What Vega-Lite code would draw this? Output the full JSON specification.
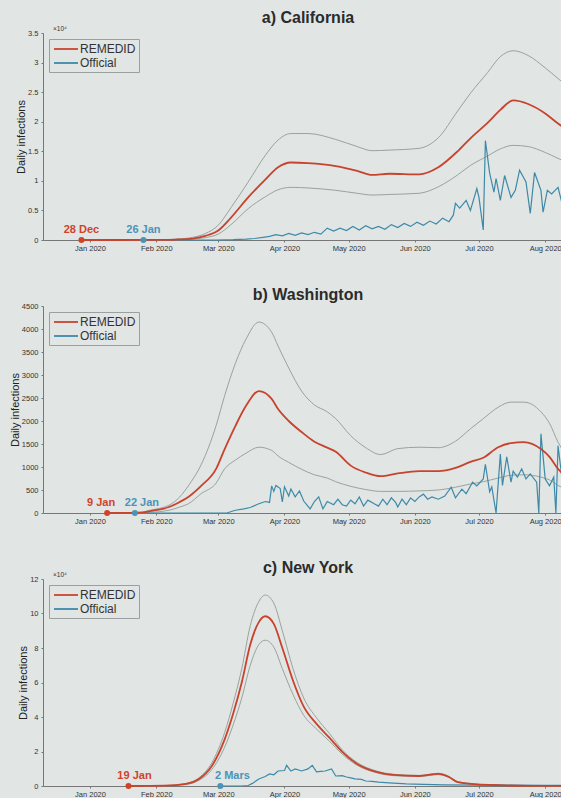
{
"$schema": "https://vega.github.io/schema/vega-lite/v6.json",
"background": "#e1e5e4",
"padding": {"left": 9, "top": 10, "right": 0, "bottom": 0},
"spacing": 35,
"config": {
 "font": "Liberation Sans",
 "view": {"stroke": null},
 "axis": {"domainColor": "#777", "tickColor": "#777", "labelFontSize": 7.5, "labelColor": "#333", "grid": false, "tickSize": 2, "labelPadding": 3, "labelOverlap": false},
 "axisX": {"labelPadding": 2},
 "axisY": {"titleFontSize": 11, "titleFontWeight": "normal", "titleColor": "#222", "titlePadding": 1},
 "title": {"fontSize": 16, "fontWeight": "bold", "color": "#2b2b2b", "offset": 5, "font": "Liberation Sans"},
 "legend": {"orient": "top-left", "offset": 6, "strokeColor": "#9aa0a0", "padding": 3, "symbolType": "M-2,0H2", "symbolSize": 144, "symbolOffset": 7, "symbolStrokeWidth": 1.8, "labelFontSize": 12, "labelColor": "#333", "labelOffset": 7, "rowPadding": 1}
},
"resolve": {"scale": {"y": "independent", "color": "independent"}, "legend": {"color": "independent"}},
"datasets": {
 "curves": [
  {"p":"a","d":"2019-12-28","r":0,"lo":0,"hi":0},
  {"p":"a","d":"2020-01-15","r":0,"lo":0,"hi":0},
  {"p":"a","d":"2020-02-01","r":20,"lo":10,"hi":40},
  {"p":"a","d":"2020-02-10","r":80,"lo":40,"hi":150},
  {"p":"a","d":"2020-02-18","r":250,"lo":150,"hi":450},
  {"p":"a","d":"2020-02-24","r":700,"lo":400,"hi":1100},
  {"p":"a","d":"2020-03-01","r":1600,"lo":1000,"hi":2500},
  {"p":"a","d":"2020-03-07","r":3800,"lo":2600,"hi":5500},
  {"p":"a","d":"2020-03-15","r":7200,"lo":5300,"hi":9800},
  {"p":"a","d":"2020-03-23","r":10200,"lo":7300,"hi":14300},
  {"p":"a","d":"2020-03-29","r":12300,"lo":8500,"hi":16900},
  {"p":"a","d":"2020-04-04","r":13100,"lo":8900,"hi":18000},
  {"p":"a","d":"2020-04-12","r":13000,"lo":8800,"hi":18000},
  {"p":"a","d":"2020-04-25","r":12500,"lo":8400,"hi":17000},
  {"p":"a","d":"2020-05-05","r":11700,"lo":7900,"hi":15800},
  {"p":"a","d":"2020-05-12","r":11000,"lo":7600,"hi":15100},
  {"p":"a","d":"2020-05-20","r":11200,"lo":7700,"hi":15200},
  {"p":"a","d":"2020-06-03","r":11100,"lo":7900,"hi":15500},
  {"p":"a","d":"2020-06-12","r":12300,"lo":9000,"hi":17300},
  {"p":"a","d":"2020-06-21","r":15000,"lo":11000,"hi":21800},
  {"p":"a","d":"2020-06-27","r":17200,"lo":12600,"hi":24800},
  {"p":"a","d":"2020-07-05","r":19800,"lo":14200,"hi":28300},
  {"p":"a","d":"2020-07-11","r":22000,"lo":15400,"hi":31000},
  {"p":"a","d":"2020-07-17","r":23600,"lo":16000,"hi":32000},
  {"p":"a","d":"2020-07-24","r":23000,"lo":15800,"hi":31200},
  {"p":"a","d":"2020-08-01","r":21400,"lo":14800,"hi":29100},
  {"p":"a","d":"2020-08-07","r":19700,"lo":13800,"hi":27300},
  {"p":"a","d":"2020-08-14","r":18000,"lo":12700,"hi":25200},
  {"p":"b","d":"2020-01-09","r":0,"lo":0,"hi":0},
  {"p":"b","d":"2020-01-25","r":10,"lo":5,"hi":20},
  {"p":"b","d":"2020-01-29","r":40,"lo":15,"hi":60},
  {"p":"b","d":"2020-02-07","r":130,"lo":60,"hi":170},
  {"p":"b","d":"2020-02-12","r":240,"lo":130,"hi":350},
  {"p":"b","d":"2020-02-16","r":350,"lo":200,"hi":590},
  {"p":"b","d":"2020-02-22","r":590,"lo":420,"hi":1050},
  {"p":"b","d":"2020-02-29","r":960,"lo":650,"hi":1900},
  {"p":"b","d":"2020-03-04","r":1390,"lo":960,"hi":2550},
  {"p":"b","d":"2020-03-09","r":1890,"lo":1150,"hi":3250},
  {"p":"b","d":"2020-03-14","r":2330,"lo":1300,"hi":3780},
  {"p":"b","d":"2020-03-20","r":2650,"lo":1430,"hi":4150},
  {"p":"b","d":"2020-03-26","r":2480,"lo":1360,"hi":3930},
  {"p":"b","d":"2020-03-29","r":2260,"lo":1240,"hi":3630},
  {"p":"b","d":"2020-04-03","r":2000,"lo":1100,"hi":3150},
  {"p":"b","d":"2020-04-09","r":1760,"lo":950,"hi":2650},
  {"p":"b","d":"2020-04-15","r":1550,"lo":830,"hi":2350},
  {"p":"b","d":"2020-04-21","r":1420,"lo":760,"hi":2200},
  {"p":"b","d":"2020-04-25","r":1330,"lo":680,"hi":2050},
  {"p":"b","d":"2020-05-02","r":1030,"lo":580,"hi":1680},
  {"p":"b","d":"2020-05-09","r":880,"lo":510,"hi":1420},
  {"p":"b","d":"2020-05-16","r":800,"lo":470,"hi":1270},
  {"p":"b","d":"2020-05-24","r":860,"lo":470,"hi":1400},
  {"p":"b","d":"2020-06-03","r":910,"lo":480,"hi":1430},
  {"p":"b","d":"2020-06-12","r":910,"lo":500,"hi":1420},
  {"p":"b","d":"2020-06-20","r":980,"lo":560,"hi":1560},
  {"p":"b","d":"2020-06-27","r":1110,"lo":630,"hi":1830},
  {"p":"b","d":"2020-07-03","r":1200,"lo":680,"hi":2050},
  {"p":"b","d":"2020-07-10","r":1430,"lo":760,"hi":2300},
  {"p":"b","d":"2020-07-16","r":1520,"lo":820,"hi":2410},
  {"p":"b","d":"2020-07-22","r":1540,"lo":830,"hi":2410},
  {"p":"b","d":"2020-07-30","r":1390,"lo":780,"hi":2200},
  {"p":"b","d":"2020-08-03","r":1220,"lo":720,"hi":1950},
  {"p":"b","d":"2020-08-07","r":960,"lo":600,"hi":1540},
  {"p":"b","d":"2020-08-14","r":700,"lo":450,"hi":1100},
  {"p":"c","d":"2020-01-19","r":0,"lo":0,"hi":0},
  {"p":"c","d":"2020-02-05","r":200,"lo":150,"hi":250},
  {"p":"c","d":"2020-02-15","r":1200,"lo":900,"hi":1500},
  {"p":"c","d":"2020-02-21","r":4100,"lo":3300,"hi":4800},
  {"p":"c","d":"2020-02-27","r":11600,"lo":9500,"hi":13500},
  {"p":"c","d":"2020-03-04","r":27000,"lo":22500,"hi":31000},
  {"p":"c","d":"2020-03-08","r":42000,"lo":35500,"hi":48000},
  {"p":"c","d":"2020-03-12","r":60000,"lo":51000,"hi":68000},
  {"p":"c","d":"2020-03-16","r":82000,"lo":70000,"hi":93000},
  {"p":"c","d":"2020-03-20","r":95000,"lo":82000,"hi":107000},
  {"p":"c","d":"2020-03-23","r":98400,"lo":84500,"hi":110700},
  {"p":"c","d":"2020-03-27","r":94000,"lo":80500,"hi":106000},
  {"p":"c","d":"2020-03-31","r":80000,"lo":68000,"hi":90000},
  {"p":"c","d":"2020-04-05","r":61000,"lo":53000,"hi":68000},
  {"p":"c","d":"2020-04-10","r":46000,"lo":41000,"hi":51000},
  {"p":"c","d":"2020-04-16","r":36000,"lo":33000,"hi":39500},
  {"p":"c","d":"2020-04-22","r":28000,"lo":26000,"hi":30500},
  {"p":"c","d":"2020-04-28","r":19800,"lo":18500,"hi":21000},
  {"p":"c","d":"2020-05-05","r":12800,"lo":12000,"hi":13600},
  {"p":"c","d":"2020-05-14","r":8200,"lo":7700,"hi":8700},
  {"p":"c","d":"2020-05-22","r":6400,"lo":6000,"hi":6800},
  {"p":"c","d":"2020-06-03","r":5800,"lo":5500,"hi":6100},
  {"p":"c","d":"2020-06-12","r":7000,"lo":6600,"hi":7400},
  {"p":"c","d":"2020-06-17","r":5200,"lo":4900,"hi":5500},
  {"p":"c","d":"2020-06-21","r":2300,"lo":2100,"hi":2500},
  {"p":"c","d":"2020-07-06","r":600,"lo":550,"hi":650},
  {"p":"c","d":"2020-07-25","r":100,"lo":90,"hi":110},
  {"p":"c","d":"2020-08-14","r":0,"lo":0,"hi":0}
 ],
 "official": [
  {"p":"a","d":"2020-01-26","o":0},{"p":"a","d":"2020-02-29","o":0},{"p":"a","d":"2020-03-08","o":50},{"p":"a","d":"2020-03-14","o":150},
  {"p":"a","d":"2020-03-18","o":250},{"p":"a","d":"2020-03-22","o":450},{"p":"a","d":"2020-03-25","o":600},{"p":"a","d":"2020-03-28","o":900},
  {"p":"a","d":"2020-03-31","o":700},{"p":"a","d":"2020-04-03","o":1100},{"p":"a","d":"2020-04-06","o":800},{"p":"a","d":"2020-04-09","o":1200},
  {"p":"a","d":"2020-04-12","o":900},{"p":"a","d":"2020-04-15","o":1300},{"p":"a","d":"2020-04-18","o":1000},{"p":"a","d":"2020-04-21","o":2000},
  {"p":"a","d":"2020-04-24","o":1500},{"p":"a","d":"2020-04-27","o":2000},{"p":"a","d":"2020-04-30","o":1600},{"p":"a","d":"2020-05-03","o":2300},
  {"p":"a","d":"2020-05-06","o":1700},{"p":"a","d":"2020-05-09","o":2400},{"p":"a","d":"2020-05-12","o":1900},{"p":"a","d":"2020-05-15","o":2300},
  {"p":"a","d":"2020-05-18","o":1800},{"p":"a","d":"2020-05-21","o":2600},{"p":"a","d":"2020-05-24","o":2100},{"p":"a","d":"2020-05-27","o":2800},
  {"p":"a","d":"2020-05-30","o":2300},{"p":"a","d":"2020-06-02","o":3000},{"p":"a","d":"2020-06-05","o":2500},{"p":"a","d":"2020-06-08","o":3200},
  {"p":"a","d":"2020-06-11","o":2700},{"p":"a","d":"2020-06-14","o":3700},{"p":"a","d":"2020-06-17","o":3100},{"p":"a","d":"2020-06-19","o":4200},
  {"p":"a","d":"2020-06-20","o":6200},{"p":"a","d":"2020-06-22","o":5400},{"p":"a","d":"2020-06-25","o":6700},{"p":"a","d":"2020-06-27","o":5000},
  {"p":"a","d":"2020-06-30","o":8700},{"p":"a","d":"2020-07-01","o":7200},{"p":"a","d":"2020-07-03","o":1700},{"p":"a","d":"2020-07-04","o":16800},
  {"p":"a","d":"2020-07-06","o":11300},{"p":"a","d":"2020-07-08","o":8100},{"p":"a","d":"2020-07-09","o":10400},{"p":"a","d":"2020-07-11","o":6700},
  {"p":"a","d":"2020-07-13","o":10900},{"p":"a","d":"2020-07-16","o":7200},{"p":"a","d":"2020-07-18","o":8400},{"p":"a","d":"2020-07-20","o":11800},
  {"p":"a","d":"2020-07-23","o":9800},{"p":"a","d":"2020-07-25","o":4500},{"p":"a","d":"2020-07-27","o":11400},{"p":"a","d":"2020-07-30","o":8400},
  {"p":"a","d":"2020-07-31","o":4700},{"p":"a","d":"2020-08-02","o":8400},{"p":"a","d":"2020-08-04","o":7800},{"p":"a","d":"2020-08-07","o":8900},
  {"p":"a","d":"2020-08-09","o":6000},{"p":"a","d":"2020-08-11","o":9500},{"p":"a","d":"2020-08-13","o":7000},
  {"p":"b","d":"2020-01-22","o":0},{"p":"b","d":"2020-03-05","o":0},{"p":"b","d":"2020-03-09","o":60},{"p":"b","d":"2020-03-13","o":90},
  {"p":"b","d":"2020-03-16","o":120},{"p":"b","d":"2020-03-20","o":200},{"p":"b","d":"2020-03-23","o":250},{"p":"b","d":"2020-03-25","o":230},
  {"p":"b","d":"2020-03-26","o":590},{"p":"b","d":"2020-03-27","o":470},{"p":"b","d":"2020-03-28","o":600},{"p":"b","d":"2020-03-30","o":530},
  {"p":"b","d":"2020-03-31","o":240},{"p":"b","d":"2020-04-01","o":570},{"p":"b","d":"2020-04-03","o":370},{"p":"b","d":"2020-04-04","o":520},
  {"p":"b","d":"2020-04-06","o":350},{"p":"b","d":"2020-04-08","o":480},{"p":"b","d":"2020-04-10","o":260},{"p":"b","d":"2020-04-13","o":90},
  {"p":"b","d":"2020-04-15","o":250},{"p":"b","d":"2020-04-17","o":350},{"p":"b","d":"2020-04-19","o":90},{"p":"b","d":"2020-04-21","o":250},
  {"p":"b","d":"2020-04-24","o":180},{"p":"b","d":"2020-04-26","o":300},{"p":"b","d":"2020-04-28","o":180},{"p":"b","d":"2020-04-30","o":150},
  {"p":"b","d":"2020-05-02","o":280},{"p":"b","d":"2020-05-04","o":200},{"p":"b","d":"2020-05-06","o":350},{"p":"b","d":"2020-05-08","o":150},
  {"p":"b","d":"2020-05-10","o":280},{"p":"b","d":"2020-05-13","o":200},{"p":"b","d":"2020-05-15","o":150},{"p":"b","d":"2020-05-17","o":300},
  {"p":"b","d":"2020-05-19","o":180},{"p":"b","d":"2020-05-21","o":330},{"p":"b","d":"2020-05-23","o":230},{"p":"b","d":"2020-05-24","o":130},
  {"p":"b","d":"2020-05-26","o":300},{"p":"b","d":"2020-05-28","o":180},{"p":"b","d":"2020-05-30","o":330},{"p":"b","d":"2020-06-01","o":250},
  {"p":"b","d":"2020-06-03","o":350},{"p":"b","d":"2020-06-05","o":410},{"p":"b","d":"2020-06-07","o":300},{"p":"b","d":"2020-06-09","o":350},
  {"p":"b","d":"2020-06-12","o":300},{"p":"b","d":"2020-06-15","o":370},{"p":"b","d":"2020-06-18","o":560},{"p":"b","d":"2020-06-20","o":330},
  {"p":"b","d":"2020-06-23","o":520},{"p":"b","d":"2020-06-25","o":420},{"p":"b","d":"2020-06-28","o":670},{"p":"b","d":"2020-06-30","o":590},
  {"p":"b","d":"2020-07-03","o":740},{"p":"b","d":"2020-07-04","o":1060},{"p":"b","d":"2020-07-06","o":460},{"p":"b","d":"2020-07-07","o":570},
  {"p":"b","d":"2020-07-09","o":0},{"p":"b","d":"2020-07-11","o":1280},{"p":"b","d":"2020-07-12","o":600},{"p":"b","d":"2020-07-14","o":1220},
  {"p":"b","d":"2020-07-16","o":670},{"p":"b","d":"2020-07-17","o":910},{"p":"b","d":"2020-07-19","o":780},{"p":"b","d":"2020-07-21","o":960},
  {"p":"b","d":"2020-07-23","o":740},{"p":"b","d":"2020-07-25","o":850},{"p":"b","d":"2020-07-28","o":670},{"p":"b","d":"2020-07-29","o":0},
  {"p":"b","d":"2020-07-30","o":1720},{"p":"b","d":"2020-08-01","o":740},{"p":"b","d":"2020-08-03","o":590},{"p":"b","d":"2020-08-05","o":780},
  {"p":"b","d":"2020-08-06","o":0},{"p":"b","d":"2020-08-07","o":1460},{"p":"b","d":"2020-08-09","o":700},{"p":"b","d":"2020-08-11","o":900},
  {"p":"b","d":"2020-08-13","o":600},
  {"p":"c","d":"2020-03-02","o":0},{"p":"c","d":"2020-03-12","o":0},{"p":"c","d":"2020-03-15","o":300},{"p":"c","d":"2020-03-17","o":1500},
  {"p":"c","d":"2020-03-20","o":4100},{"p":"c","d":"2020-03-23","o":5500},{"p":"c","d":"2020-03-25","o":7000},{"p":"c","d":"2020-03-27","o":6500},
  {"p":"c","d":"2020-03-29","o":8700},{"p":"c","d":"2020-04-01","o":9000},{"p":"c","d":"2020-04-02","o":12000},{"p":"c","d":"2020-04-04","o":8700},
  {"p":"c","d":"2020-04-06","o":9900},{"p":"c","d":"2020-04-09","o":8700},{"p":"c","d":"2020-04-12","o":9900},{"p":"c","d":"2020-04-14","o":12000},
  {"p":"c","d":"2020-04-16","o":8200},{"p":"c","d":"2020-04-18","o":8500},{"p":"c","d":"2020-04-20","o":8700},{"p":"c","d":"2020-04-23","o":9900},
  {"p":"c","d":"2020-04-25","o":5800},{"p":"c","d":"2020-04-28","o":6000},{"p":"c","d":"2020-04-30","o":5200},{"p":"c","d":"2020-05-02","o":4700},
  {"p":"c","d":"2020-05-04","o":4100},{"p":"c","d":"2020-05-07","o":3800},{"p":"c","d":"2020-05-09","o":2900},{"p":"c","d":"2020-05-12","o":2700},
  {"p":"c","d":"2020-05-15","o":2300},{"p":"c","d":"2020-05-20","o":1800},{"p":"c","d":"2020-05-28","o":1200},{"p":"c","d":"2020-06-05","o":900},
  {"p":"c","d":"2020-06-15","o":600},{"p":"c","d":"2020-07-01","o":500},{"p":"c","d":"2020-07-15","o":450},{"p":"c","d":"2020-08-01","o":400},
  {"p":"c","d":"2020-08-14","o":400}
 ],
 "starts": [
  {"p":"a","s":"REMEDID","d":"2019-12-28","t":"28 Dec"},
  {"p":"a","s":"Official","d":"2020-01-26","t":"26 Jan"},
  {"p":"b","s":"REMEDID","d":"2020-01-09","t":"9 Jan"},
  {"p":"b","s":"Official","d":"2020-01-22","t":"22 Jan"},
  {"p":"c","s":"REMEDID","d":"2020-01-19","t":"19 Jan"},
  {"p":"c","s":"Official","d":"2020-03-02","t":"2 Mars"}
 ],
 "corner": [
  {"d":"2019-12-10","t":"×10⁴"}
 ]
},
"vconcat": [
 {
  "title": {"text": "a) California", "offset": 0},
  "width": 530, "height": 207,
  "encoding": {"x": {"field": "d", "type": "temporal", "title": null, "scale": {"domain": [{"year":2019,"month":12,"date":10},{"year":2020,"month":8,"date":14}]}, "axis": {"format": "%b %Y", "tickCount": {"interval": "month", "step": 1}}}},
  "layer": [
   {"data": {"name": "curves"}, "transform": [{"filter": "datum.p === 'a'"}], "mark": {"type": "line", "color": "#9aa39c", "strokeWidth": 1, "interpolate": "monotone"}, "encoding": {"y": {"field": "hi", "type": "quantitative", "title": "Daily infections", "scale": {"domain": [0, 35000]}, "axis": {"values": [0,5000,10000,15000,20000,25000,30000,35000], "labelExpr": "datum.value/10000 + ''", "labelOverlap": false}}}},
   {"data": {"name": "curves"}, "transform": [{"filter": "datum.p === 'a'"}], "mark": {"type": "line", "color": "#9aa39c", "strokeWidth": 1, "interpolate": "monotone"}, "encoding": {"y": {"field": "lo", "type": "quantitative", "title": "Daily infections", "axis": {"values": [0,5000,10000,15000,20000,25000,30000,35000], "labelExpr": "datum.value/10000 + ''", "labelOverlap": false}}}},
   {"data": {"name": "official"}, "transform": [{"filter": "datum.p === 'a'"}], "mark": {"type": "line", "strokeWidth": 1.2}, "encoding": {"y": {"field": "o", "type": "quantitative", "title": "Daily infections", "axis": {"values": [0,5000,10000,15000,20000,25000,30000,35000], "labelExpr": "datum.value/10000 + ''", "labelOverlap": false}}, "color": {"datum": "Official", "type": "nominal", "title": null, "scale": {"domain": ["REMEDID", "Official"], "range": ["#c7432e", "#3d8aa8"]}}}},
   {"data": {"name": "curves"}, "transform": [{"filter": "datum.p === 'a'"}], "mark": {"type": "line", "strokeWidth": 1.8, "interpolate": "monotone"}, "encoding": {"y": {"field": "r", "type": "quantitative", "title": "Daily infections", "axis": {"values": [0,5000,10000,15000,20000,25000,30000,35000], "labelExpr": "datum.value/10000 + ''", "labelOverlap": false}}, "color": {"datum": "REMEDID", "type": "nominal", "title": null}}},
   {"data": {"name": "starts"}, "transform": [{"filter": "datum.p === 'a'"}], "mark": {"type": "point", "filled": true, "size": 36, "opacity": 1}, "encoding": {"y": {"datum": 0, "type": "quantitative", "title": "Daily infections", "axis": {"values": [0,5000,10000,15000,20000,25000,30000,35000], "labelExpr": "datum.value/10000 + ''", "labelOverlap": false}}, "fill": {"condition": {"test": "datum.s === 'REMEDID'", "value": "#d0432a"}, "value": "#4b94b8"}}},
   {"data": {"name": "starts"}, "transform": [{"filter": "datum.p === 'a'"}], "mark": {"type": "text", "fontSize": 11, "fontWeight": "bold", "dy": -7, "baseline": "alphabetic", "align": "center"}, "encoding": {"y": {"datum": 0, "type": "quantitative", "title": "Daily infections", "axis": {"values": [0,5000,10000,15000,20000,25000,30000,35000], "labelExpr": "datum.value/10000 + ''", "labelOverlap": false}}, "text": {"field": "t"}, "color": {"condition": {"test": "datum.s === 'REMEDID'", "value": "#d0432a"}, "value": "#4b94b8"}}},
   {"data": {"name": "corner"}, "mark": {"type": "text", "fontSize": 6.5, "align": "left", "baseline": "bottom", "dx": 10, "dy": -1, "color": "#333"}, "encoding": {"y": {"datum": 35000, "type": "quantitative", "title": "Daily infections", "axis": {"values": [0,5000,10000,15000,20000,25000,30000,35000], "labelExpr": "datum.value/10000 + ''", "labelOverlap": false}}, "text": {"field": "t"}}}
  ]
 },
 {
  "title": {"text": "b) Washington", "offset": -1},
  "width": 530, "height": 207,
  "encoding": {"x": {"field": "d", "type": "temporal", "title": null, "scale": {"domain": [{"year":2019,"month":12,"date":10},{"year":2020,"month":8,"date":14}]}, "axis": {"format": "%b %Y", "tickCount": {"interval": "month", "step": 1}}}},
  "layer": [
   {"data": {"name": "curves"}, "transform": [{"filter": "datum.p === 'b'"}], "mark": {"type": "line", "color": "#9aa39c", "strokeWidth": 1, "interpolate": "monotone"}, "encoding": {"y": {"field": "hi", "type": "quantitative", "title": "Daily infections", "scale": {"domain": [0, 4500]}, "axis": {"values": [0,500,1000,1500,2000,2500,3000,3500,4000,4500], "format": "d", "labelOverlap": false}}}},
   {"data": {"name": "curves"}, "transform": [{"filter": "datum.p === 'b'"}], "mark": {"type": "line", "color": "#9aa39c", "strokeWidth": 1, "interpolate": "monotone"}, "encoding": {"y": {"field": "lo", "type": "quantitative", "title": "Daily infections", "axis": {"values": [0,500,1000,1500,2000,2500,3000,3500,4000,4500], "format": "d", "labelOverlap": false}}}},
   {"data": {"name": "official"}, "transform": [{"filter": "datum.p === 'b'"}], "mark": {"type": "line", "strokeWidth": 1.2}, "encoding": {"y": {"field": "o", "type": "quantitative", "title": "Daily infections", "axis": {"values": [0,500,1000,1500,2000,2500,3000,3500,4000,4500], "format": "d", "labelOverlap": false}}, "color": {"datum": "Official", "type": "nominal", "title": null, "scale": {"domain": ["REMEDID", "Official"], "range": ["#c7432e", "#3d8aa8"]}}}},
   {"data": {"name": "curves"}, "transform": [{"filter": "datum.p === 'b'"}], "mark": {"type": "line", "strokeWidth": 1.8, "interpolate": "monotone"}, "encoding": {"y": {"field": "r", "type": "quantitative", "title": "Daily infections", "axis": {"values": [0,500,1000,1500,2000,2500,3000,3500,4000,4500], "format": "d", "labelOverlap": false}}, "color": {"datum": "REMEDID", "type": "nominal", "title": null}}},
   {"data": {"name": "starts"}, "transform": [{"filter": "datum.p === 'b'"}], "mark": {"type": "point", "filled": true, "size": 36, "opacity": 1}, "encoding": {"y": {"datum": 0, "type": "quantitative", "title": "Daily infections", "axis": {"values": [0,500,1000,1500,2000,2500,3000,3500,4000,4500], "format": "d", "labelOverlap": false}}, "fill": {"condition": {"test": "datum.s === 'REMEDID'", "value": "#d0432a"}, "value": "#4b94b8"}}},
   {"data": {"name": "starts"}, "transform": [{"filter": "datum.p === 'b' && datum.s === 'REMEDID'"}], "mark": {"type": "text", "fontSize": 11, "fontWeight": "bold", "dy": -7, "dx": -6, "baseline": "alphabetic", "align": "center", "color": "#d0432a"}, "encoding": {"y": {"datum": 0, "type": "quantitative", "title": "Daily infections", "axis": {"values": [0,500,1000,1500,2000,2500,3000,3500,4000,4500], "format": "d", "labelOverlap": false}}, "text": {"field": "t"}}},
   {"data": {"name": "starts"}, "transform": [{"filter": "datum.p === 'b' && datum.s === 'Official'"}], "mark": {"type": "text", "fontSize": 11, "fontWeight": "bold", "dy": -7, "dx": 7, "baseline": "alphabetic", "align": "center", "color": "#4b94b8"}, "encoding": {"y": {"datum": 0, "type": "quantitative", "title": "Daily infections", "axis": {"values": [0,500,1000,1500,2000,2500,3000,3500,4000,4500], "format": "d", "labelOverlap": false}}, "text": {"field": "t"}}}
  ]
 },
 {
  "title": {"text": "c) New York", "offset": -4},
  "width": 530, "height": 207,
  "encoding": {"x": {"field": "d", "type": "temporal", "title": null, "scale": {"domain": [{"year":2019,"month":12,"date":10},{"year":2020,"month":8,"date":14}]}, "axis": {"format": "%b %Y", "tickCount": {"interval": "month", "step": 1}}}},
  "layer": [
   {"data": {"name": "curves"}, "transform": [{"filter": "datum.p === 'c'"}], "mark": {"type": "line", "color": "#9aa39c", "strokeWidth": 1, "interpolate": "monotone"}, "encoding": {"y": {"field": "hi", "type": "quantitative", "title": "Daily infections", "scale": {"domain": [0, 120000]}, "axis": {"values": [0,20000,40000,60000,80000,100000,120000], "labelExpr": "datum.value/10000 + ''", "labelOverlap": false}}}},
   {"data": {"name": "curves"}, "transform": [{"filter": "datum.p === 'c'"}], "mark": {"type": "line", "color": "#9aa39c", "strokeWidth": 1, "interpolate": "monotone"}, "encoding": {"y": {"field": "lo", "type": "quantitative", "title": "Daily infections", "axis": {"values": [0,20000,40000,60000,80000,100000,120000], "labelExpr": "datum.value/10000 + ''", "labelOverlap": false}}}},
   {"data": {"name": "official"}, "transform": [{"filter": "datum.p === 'c'"}], "mark": {"type": "line", "strokeWidth": 1.2}, "encoding": {"y": {"field": "o", "type": "quantitative", "title": "Daily infections", "axis": {"values": [0,20000,40000,60000,80000,100000,120000], "labelExpr": "datum.value/10000 + ''", "labelOverlap": false}}, "color": {"datum": "Official", "type": "nominal", "title": null, "scale": {"domain": ["REMEDID", "Official"], "range": ["#c7432e", "#3d8aa8"]}}}},
   {"data": {"name": "curves"}, "transform": [{"filter": "datum.p === 'c'"}], "mark": {"type": "line", "strokeWidth": 1.8, "interpolate": "monotone"}, "encoding": {"y": {"field": "r", "type": "quantitative", "title": "Daily infections", "axis": {"values": [0,20000,40000,60000,80000,100000,120000], "labelExpr": "datum.value/10000 + ''", "labelOverlap": false}}, "color": {"datum": "REMEDID", "type": "nominal", "title": null}}},
   {"data": {"name": "starts"}, "transform": [{"filter": "datum.p === 'c'"}], "mark": {"type": "point", "filled": true, "size": 36, "opacity": 1}, "encoding": {"y": {"datum": 0, "type": "quantitative", "title": "Daily infections", "axis": {"values": [0,20000,40000,60000,80000,100000,120000], "labelExpr": "datum.value/10000 + ''", "labelOverlap": false}}, "fill": {"condition": {"test": "datum.s === 'REMEDID'", "value": "#d0432a"}, "value": "#4b94b8"}}},
   {"data": {"name": "starts"}, "transform": [{"filter": "datum.p === 'c' && datum.s === 'REMEDID'"}], "mark": {"type": "text", "fontSize": 11, "fontWeight": "bold", "dy": -7, "dx": 6, "baseline": "alphabetic", "align": "center", "color": "#d0432a"}, "encoding": {"y": {"datum": 0, "type": "quantitative", "title": "Daily infections", "axis": {"values": [0,20000,40000,60000,80000,100000,120000], "labelExpr": "datum.value/10000 + ''", "labelOverlap": false}}, "text": {"field": "t"}}},
   {"data": {"name": "starts"}, "transform": [{"filter": "datum.p === 'c' && datum.s === 'Official'"}], "mark": {"type": "text", "fontSize": 11, "fontWeight": "bold", "dy": -7, "dx": 12, "baseline": "alphabetic", "align": "center", "color": "#4b94b8"}, "encoding": {"y": {"datum": 0, "type": "quantitative", "title": "Daily infections", "axis": {"values": [0,20000,40000,60000,80000,100000,120000], "labelExpr": "datum.value/10000 + ''", "labelOverlap": false}}, "text": {"field": "t"}}},
   {"data": {"name": "corner"}, "mark": {"type": "text", "fontSize": 6.5, "align": "left", "baseline": "bottom", "dx": 10, "dy": -1, "color": "#333"}, "encoding": {"y": {"datum": 120000, "type": "quantitative", "title": "Daily infections", "axis": {"values": [0,20000,40000,60000,80000,100000,120000], "labelExpr": "datum.value/10000 + ''", "labelOverlap": false}}, "text": {"field": "t"}}}
  ]
 }
]
}
